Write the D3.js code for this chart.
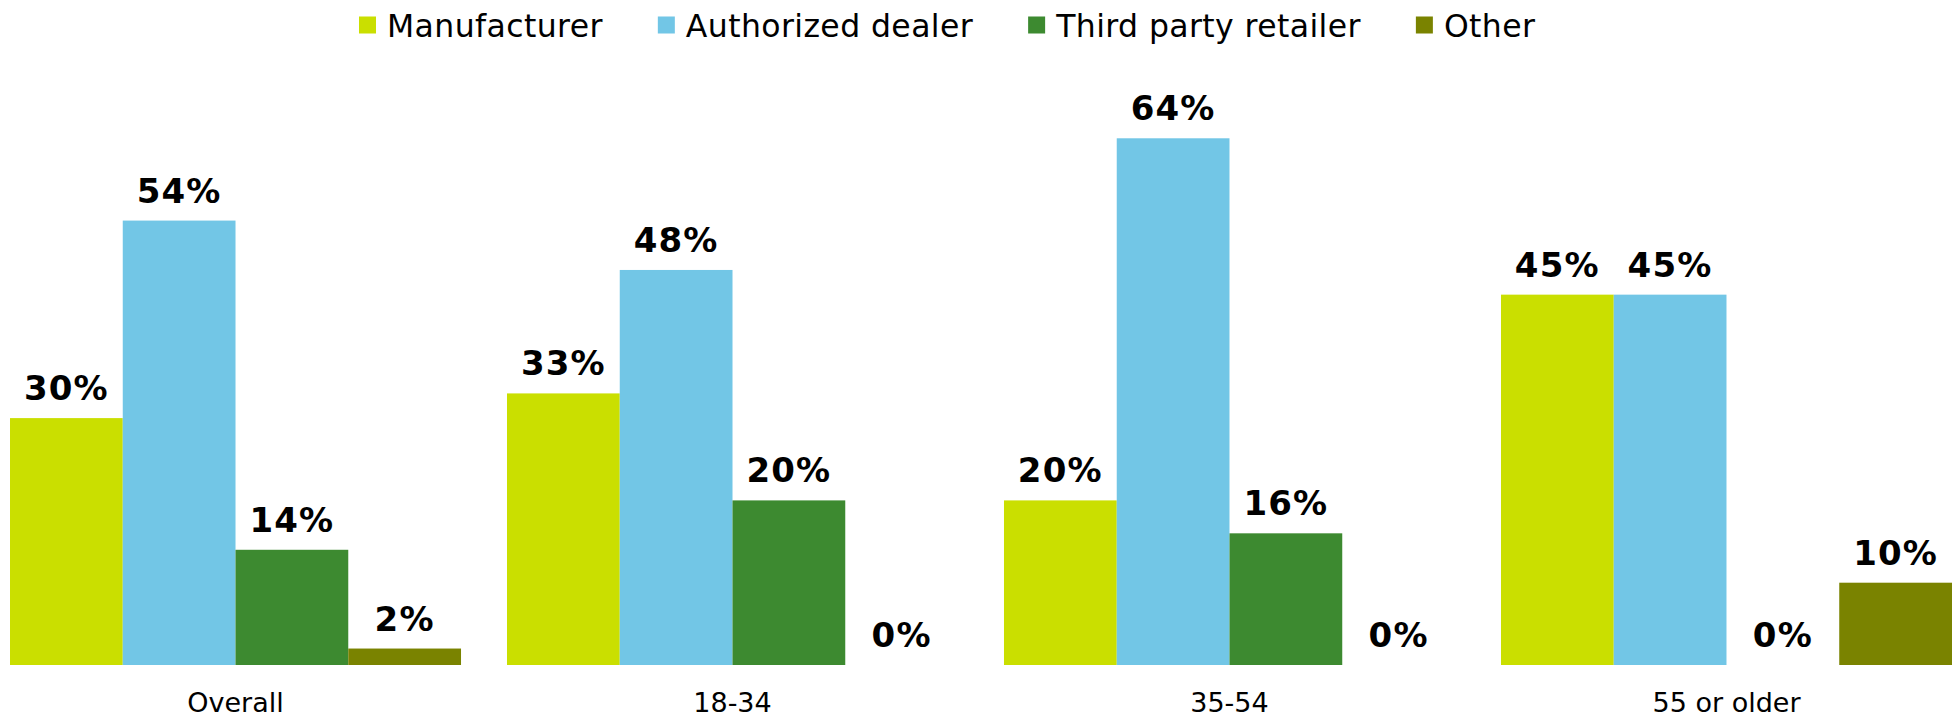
<!DOCTYPE html>
<meta charset="utf-8">
<head>
  <title>Purchase channel by age</title>
</head>
<body>
<style>
  html, body {
    margin: 0;
    padding: 0;
    background: #fff;
  }
  * {
    font-family: "DejaVu Sans", Verdana, sans-serif;
  }
  .legend text {
    font-size: 31.5px;
    letter-spacing: 0.4px;
    fill: #000;
  }
  .value-label {
    font-size: 34px;
    font-weight: bold;
    letter-spacing: 1.2px;
    fill: #000;
  }
  .group-label {
    font-size: 27px;
    fill: #000;
  }
</style>
<div class="chart"></div>
<script src="https://cdn.jsdelivr.net/npm/d3@7"></script>
<script>

var groups = ["Overall", "18-34", "35-54", "55 or older"];
var series = ["Manufacturer", "Authorized dealer", "Third party retailer", "Other"];
var colors = ["#cadf00", "#72c6e6", "#3d8a30", "#7a8300"];

// percentages, one array per series, in group order
var manufacturer = [30, 33, 20, 45];
var dealer = [54, 48, 64, 45];
var thirdParty = [14, 20, 16, 0];
var other = [2, 0, 0, 10];

var values = [manufacturer, dealer, thirdParty, other];

var width = 1955,
    height = 718,
    baseline = 665;

var svg = d3.select(".chart").append("svg")
    .attr("width", width)
    .attr("height", height);

var x0 = d3.scaleBand()
    .domain(groups)
    .range([10, 1952])
    .paddingInner(0.0925)
    .paddingOuter(0);

var x1 = d3.scaleBand()
    .domain(series)
    .range([0, x0.bandwidth()])
    .padding(0);

var y = d3.scaleLinear()
    .domain([0, 80])
    .range([baseline, baseline - 80 * 8.23]);

var color = d3.scaleOrdinal()
    .domain(series)
    .range(colors);

// flatten into one record per bar
var bars = [];
groups.forEach(function(g, gi) {
  series.forEach(function(s, si) {
    bars.push({group: g, series: s, value: values[si][gi]});
  });
});

var plot = svg.append("g").attr("class", "plot");

plot.selectAll("rect")
    .data(bars)
  .enter().append("rect")
    .attr("x", function(d) { return x0(d.group) + x1(d.series); })
    .attr("y", function(d) { return y(d.value); })
    .attr("width", x1.bandwidth())
    .attr("height", function(d) { return y(0) - y(d.value); })
    .style("fill", function(d) { return color(d.series); });

plot.selectAll("text.value-label")
    .data(bars)
  .enter().append("text")
    .attr("class", "value-label")
    .attr("text-anchor", "middle")
    .attr("x", function(d) { return x0(d.group) + x1(d.series) + x1.bandwidth() / 2; })
    .attr("y", function(d) { return y(d.value) - 18; })
    .text(function(d) { return d.value + "%"; });

// category labels under each group (no axis line in the original)
var xAxis = svg.append("g")
    .attr("transform", "translate(0," + baseline + ")")
    .call(d3.axisBottom(x0).tickSize(0).tickPadding(0));

xAxis.select(".domain").remove();
xAxis.selectAll("text")
    .attr("class", "group-label")
    .attr("dy", null)
    .attr("y", 47)
    .attr("font-size", null)
    .attr("font-family", null);

// legend laid out left to right from measured text widths
var legend = svg.append("g").attr("class", "legend");
var lx = 359;
series.forEach(function(s) {
  var item = legend.append("g");
  item.append("rect")
      .attr("x", lx)
      .attr("y", 16.5)
      .attr("width", 17)
      .attr("height", 17)
      .style("fill", color(s));
  var t = item.append("text")
      .attr("x", lx + 28)
      .attr("y", 36.5)
      .text(s);
  lx += 28 + t.node().getComputedTextLength() + 55;
});

</script>
</body>
